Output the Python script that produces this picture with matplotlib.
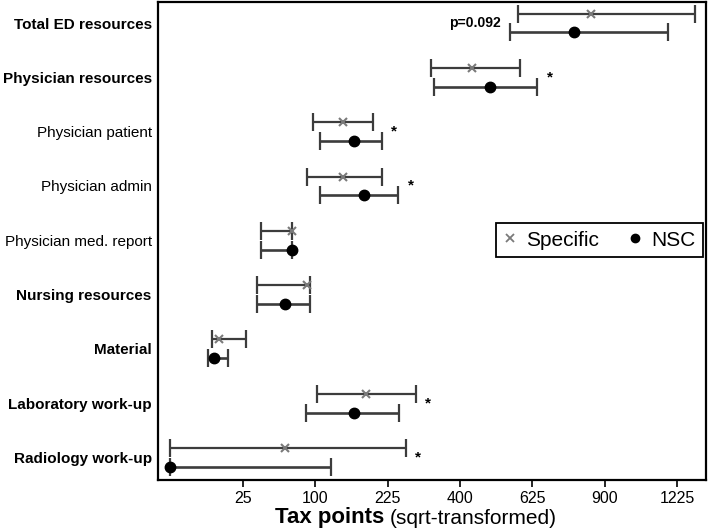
import numpy as np
import matplotlib
matplotlib.use("Agg")
import matplotlib.pyplot as plt
from matplotlib.lines import Line2D
from matplotlib.offsetbox import TextArea, HPacker, AnchoredOffsetbox

plt.rcParams['font.family'] = ['Liberation Sans', 'DejaVu Sans']

categories = ["Total ED resources", "Physician resources", "Physician patient",
              "Physician admin", "Physician med. report", "Nursing resources",
              "Material", "Laboratory work-up", "Radiology work-up"]
bold_rows = [True, True, False, False, False, True, True, True, True]

spec_est = np.array([844, 434, 142, 142, 71, 89, 11.4, 182, 63])
spec_lo = np.array([576, 324, 97.5, 89, 39, 36, 8.3, 102, 0])
spec_hi = np.array([1311, 582, 196, 213, 71, 93, 27, 287, 264])

nsc_est = np.array([778, 487, 160, 178, 71, 63, 9.1, 160, 0])
nsc_lo = np.array([551, 331, 107, 107, 39, 36, 6.9, 88, 0])
nsc_hi = np.array([1183, 642, 213, 248, 71, 93, 16, 250, 123])

star_rows = [1, 2, 3, 7, 8]
p_row = 0
p_text = "p=0.092"

xticks = [25, 100, 225, 400, 625, 900, 1225]

def fwd(x):
    x = np.asarray(x, dtype=float)
    return np.sign(x) * np.sqrt(np.abs(x))

def inv(s):
    s = np.asarray(s, dtype=float)
    return np.sign(s) * s ** 2

fig = plt.figure(figsize=(7.09, 5.29), dpi=100)
ax = fig.add_axes([158 / 709, 1 - 480 / 529, (706 - 158) / 709, 478 / 529])
ax.set_xscale('function', functions=(fwd, inv))

y = np.arange(len(categories))
off = 0.173
line_col = '#3c3c3c'

ax.errorbar(spec_est, y - off, xerr=[spec_est - spec_lo, spec_hi - spec_est],
            fmt='none', ecolor=line_col, elinewidth=1.6, capsize=6.5, capthick=1.6, zorder=2)
ax.errorbar(nsc_est, y + off, xerr=[nsc_est - nsc_lo, nsc_hi - nsc_est],
            fmt='none', ecolor=line_col, elinewidth=1.9, capsize=6.5, capthick=1.6, zorder=2)
ax.plot(spec_est, y - off, linestyle='none', marker='x', color='#7a7a7a',
        markersize=6, markeredgewidth=1.5, zorder=3)
ax.plot(nsc_est, y + off, linestyle='none', marker='o', color='black',
        markersize=7.5, zorder=3)

for r in star_rows:
    xr = max(spec_hi[r], nsc_hi[r])
    ax.annotate('*', xy=(xr, y[r]), xytext=(7, 0), textcoords='offset points',
                ha='left', va='center', fontsize=11, fontweight='bold')

ax.annotate(p_text, xy=(min(spec_lo[p_row], nsc_lo[p_row]), y[p_row]),
            xytext=(-7, 0), textcoords='offset points', ha='right', va='center',
            fontsize=10, fontweight='bold')

ax.set_xlim(-0.74, 1369)
ax.set_ylim(len(categories) - 1 + 0.414, -0.387)
ax.set_yticks(y)
ax.set_yticklabels(categories, fontsize=11)
for lab, b in zip(ax.get_yticklabels(), bold_rows):
    lab.set_fontweight('bold' if b else 'normal')
ax.tick_params(axis='y', length=0, pad=4.5)
ax.set_xticks(xticks)
ax.set_xticklabels([str(t) for t in xticks], fontsize=11.5)
ax.tick_params(axis='x', length=5, width=1.2, pad=3, direction='out')
ax.xaxis.set_minor_locator(matplotlib.ticker.NullLocator())
for s in ax.spines.values():
    s.set_linewidth(1.6)
    s.set_color('black')

handles = [Line2D([], [], linestyle='none', marker='x', color='#7a7a7a', markersize=6, markeredgewidth=1.3),
           Line2D([], [], linestyle='none', marker='o', color='black', markersize=6)]
leg = ax.legend(handles, ['Specific', 'NSC'], ncol=2, loc='center',
                bbox_to_anchor=(0.806, 0.502), fontsize=15, frameon=True,
                fancybox=False, framealpha=1, handlelength=0.6, handletextpad=0.5,
                columnspacing=1.4, borderpad=0.35)
leg.get_frame().set_edgecolor('black')
leg.get_frame().set_linewidth(1.3)

t1 = TextArea('Tax points', textprops=dict(fontsize=16, fontweight='bold'))
t2 = TextArea('(sqrt-transformed)', textprops=dict(fontsize=15))
box = HPacker(children=[t1, t2], align='baseline', pad=0, sep=4)
ab = AnchoredOffsetbox(loc='center', child=box, frameon=False,
                       bbox_to_anchor=(416 / 709, 1 - 518 / 529),
                       bbox_transform=fig.transFigure, borderpad=0, pad=0)
fig.add_artist(ab)

fig.savefig('out.png', dpi=100)
